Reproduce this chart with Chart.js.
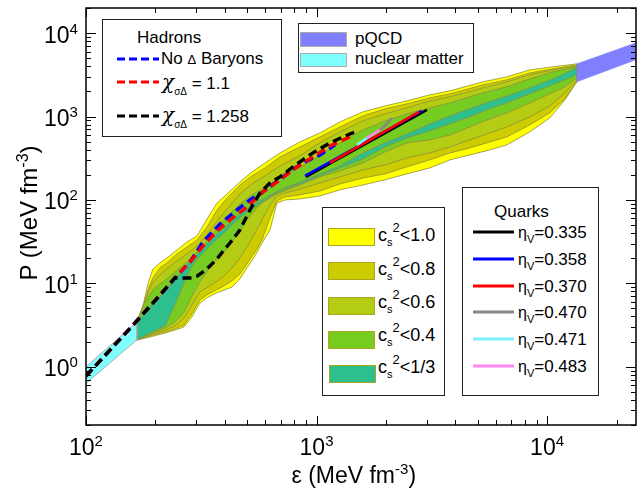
<!DOCTYPE html>
<html>
<head>
<meta charset="utf-8">
<title>EoS bands</title>
<script src="https://cdn.jsdelivr.net/npm/chart.js@4.4.1/dist/chart.umd.min.js"></script>
<style>
  html, body { margin: 0; padding: 0; background: #fff; }
  #wrap { position: relative; width: 637px; height: 489px; overflow: hidden;
          font-family: Arial, "Liberation Sans", sans-serif; color: #000; }
  #wrap canvas { position: absolute; left: 0; top: 0; }
  .t { position: absolute; white-space: nowrap; line-height: 1; }
  .box { position: absolute; box-sizing: border-box; border: 1px solid #222; background: #fff; }
  .sw { position: absolute; box-sizing: border-box; }
  .r { position: relative; }
  .chi { font-family: "DejaVu Serif", "Liberation Serif", serif; font-style: italic; font-size: 20px; }
</style>
</head>
<body>
<div id="wrap">
  <canvas id="c" width="637" height="489"></canvas>

  <!-- hadrons legend -->
  <div class="box" style="left:102px;top:19px;width:180px;height:118px"></div>
  <div class="t" style="left:137px;top:29px;font-size:17px">Hadrons</div>
  <svg style="position:absolute;left:117px;top:56px" width="42" height="6"><line x1="0" y1="3" x2="42" y2="3" stroke="#0000ff" stroke-width="3" stroke-dasharray="8 4"/></svg>
  <div class="t" style="left:161px;top:50px;font-size:17px">No <span style="font-size:13px">&Delta;</span> Baryons</div>
  <svg style="position:absolute;left:117px;top:79px" width="42" height="6"><line x1="0" y1="3" x2="42" y2="3" stroke="#ff0000" stroke-width="3" stroke-dasharray="8 4"/></svg>
  <div class="t" style="left:162px;top:72px;font-size:17px"><span class="chi">&chi;</span><span class="r" style="font-size:10px;top:6px">&sigma;&Delta;</span> = 1.1</div>
  <svg style="position:absolute;left:117px;top:113px" width="42" height="6"><line x1="0" y1="3" x2="42" y2="3" stroke="#000" stroke-width="3" stroke-dasharray="8 4"/></svg>
  <div class="t" style="left:162px;top:105px;font-size:17px"><span class="chi">&chi;</span><span class="r" style="font-size:10px;top:6px">&sigma;&Delta;</span> = 1.258</div>

  <!-- pQCD / nuclear matter legend -->
  <div class="box" style="left:298px;top:23px;width:176px;height:50px"></div>
  <div class="sw" style="left:300px;top:32px;width:47px;height:15px;background:#8080ff;border:1px solid #aaa"></div>
  <div class="sw" style="left:300px;top:53px;width:47px;height:14px;background:#80ffff;border:1px solid #aaa"></div>
  <div class="t" style="left:355px;top:30px;font-size:17px">pQCD</div>
  <div class="t" style="left:355px;top:50px;font-size:17px">nuclear matter</div>

  <!-- sound speed legend -->
  <div class="box" style="left:322px;top:207px;width:123px;height:189px"></div>
  <div class="sw" style="left:328px;top:228px;width:47px;height:18px;background:#ffff00;border:1px solid #a8a820"></div>
  <div class="sw" style="left:328px;top:262px;width:47px;height:18px;background:#cccc00;border:1px solid #a8a820"></div>
  <div class="sw" style="left:328px;top:297px;width:47px;height:18px;background:#b4cc14;border:1px solid #a8a820"></div>
  <div class="sw" style="left:328px;top:331px;width:47px;height:18px;background:#77cc22;border:1px solid #a8a820"></div>
  <div class="sw" style="left:329px;top:365px;width:47px;height:18px;background:#2dc08e;border:1px solid #a8a820"></div>
  <div class="t" style="left:378px;top:226px;font-size:18px">c<span class="r" style="font-size:11px;top:5px">s</span><span class="r" style="font-size:13px;top:-9px">2</span>&lt;1.0</div>
  <div class="t" style="left:378px;top:260px;font-size:18px">c<span class="r" style="font-size:11px;top:5px">s</span><span class="r" style="font-size:13px;top:-9px">2</span>&lt;0.8</div>
  <div class="t" style="left:378px;top:293px;font-size:18px">c<span class="r" style="font-size:11px;top:5px">s</span><span class="r" style="font-size:13px;top:-9px">2</span>&lt;0.6</div>
  <div class="t" style="left:378px;top:326px;font-size:18px">c<span class="r" style="font-size:11px;top:5px">s</span><span class="r" style="font-size:13px;top:-9px">2</span>&lt;0.4</div>
  <div class="t" style="left:378px;top:358px;font-size:18px">c<span class="r" style="font-size:11px;top:5px">s</span><span class="r" style="font-size:13px;top:-9px">2</span>&lt;1/3</div>

  <!-- quarks legend -->
  <div class="box" style="left:462px;top:187px;width:137px;height:209px"></div>
  <div class="t" style="left:494px;top:203px;font-size:17px">Quarks</div>
</div>

<script>
// ---------------- data ----------------
const xTickValues = [100, 1000, 10000];
const yTickValues = [1, 10, 100, 1000, 10000];

// energy density grid of the band edges: upper edge left -> right, lower edge right -> left
const epsUpper = [166, 177, 186, 195, 209, 227, 248, 274, 303, 335, 370, 413, 465, 525, 598, 694, 847,
                  1035, 1263, 1589, 1980, 2466, 3103, 3789, 5268, 6694, 8422, 10600, 13470];
const epsLower = [13470, 11950, 10280, 8422, 6694, 5648, 4627, 3789, 3103, 2466, 1980, 1589, 1263, 1035,
                  847, 730, 673, 628, 580, 541, 499, 465, 430, 397, 366, 338, 312, 288, 266, 243, 220, 189.5, 166];

// pressure on those edges for every sound speed band
const cs10Upper = [3.43, 5.5, 10.1, 14.8, 17.5, 20.7, 25.1, 31.3, 37.0, 59.1, 91.9, 121, 164, 217, 278, 366, 496,
                   636, 862, 1137, 1341, 1540, 1818, 2031, 2604, 2990, 3627, 3942, 4281];
const cs10Lower = [2604, 1583, 963, 654, 457, 398, 346, 302, 242, 205, 174, 151, 132, 111.6, 102.7, 99.9, 91.9,
                   43.6, 30.4, 21.3, 15.3, 11.3, 9.0, 8.3, 7.6, 6.8, 5.8, 3.94, 2.99, 2.75, 2.53, 2.27, 2.09];
const cs08Upper = [3.43, 5.3, 8.5, 11.6, 15.3, 18.0, 22.5, 27.3, 33.1, 47.4, 75.8, 108.5, 151, 194, 242, 328, 432,
                   570, 751, 1018, 1235, 1418, 1673, 1869, 2397, 2752, 3338, 3729, 4166];
const cs08Lower = [2677, 1628, 1106, 794, 570, 496, 420, 366, 302, 249, 205, 183, 155.5, 128, 115, 108.5, 97.2,
                   60.8, 33.1, 23.7, 17.0, 12.9, 10.7, 9.3, 8.3, 7.4, 6.3, 4.3, 3.16, 2.83, 2.60, 2.33, 2.09];
const cs06Upper = [3.43, 5.3, 7.6, 10.4, 12.6, 15.3, 18.5, 22.5, 28.0, 38.0, 55.9, 80.1, 117.9, 155.5, 194, 256, 337,
                   483, 654, 886, 1076, 1269, 1540, 1720, 2206, 2604, 3160, 3627, 4052];
const cs06Lower = [2752, 1921, 1341, 990, 751, 636, 524, 432, 366, 319, 263, 229, 189, 160, 135, 121, 111.6,
                   87.0, 57.5, 40.1, 27.3, 20.1, 15.3, 12.2, 10.4, 9.0, 7.9, 5.5, 3.8, 3.07, 2.75, 2.40, 2.09];
const cs04Upper = [3.43, 5.3, 6.8, 8.3, 9.8, 11.6, 14.4, 18.0, 23.7, 32.2, 44.8, 64.2, 89.4, 115, 143, 183, 242,
                   346, 483, 691, 886, 1076, 1269, 1457, 1921, 2268, 2829, 3432, 3942];
const cs04Lower = [2908, 2268, 1869, 1457, 1106, 937, 751, 602, 524, 483, 376, 278, 222.6, 189, 151, 128, 117.9,
                   105.6, 91.9, 75.8, 57.5, 42.4, 31.3, 23.7, 19.0, 14.4, 10.4, 7.0, 4.5, 3.43, 2.91, 2.46, 2.09];
const cs03Upper = [3.43, 4.2, 4.9, 5.8, 7.0, 9.0, 11.9, 16.6, 22.5, 29.6, 39.0, 50.1, 67.9, 87.0, 105.6, 132, 164,
                   205, 256, 366, 483, 619, 816, 1018, 1418, 1768, 2206, 2829, 3834];
const cs03Lower = [3160, 2752, 2331, 1869, 1457, 1235, 990, 816, 672, 554, 432, 310, 242, 194, 155.5, 135, 121,
                   108.5, 94.5, 82.3, 71.7, 60.8, 50.1, 40.1, 33.1, 26.5, 21.3, 16.1, 10.1, 5.5, 3.07, 2.53, 2.09];

const nuclearEps = [100, 166];
const nuclearUpper = [1.0, 3.43];
const nuclearLower = [0.63, 2.09];
const pqcdEps = [13470, 26000];
const pqcdUpper = [4281, 8197];
const pqcdLower = [2604, 5138];

// hadronic EoS (dashed)
const noDeltaEps = [100, 166, 209, 243, 282.5, 321.7, 381.2, 451.6, 514, 585.7, 714.9, 790, 908.7, 1035, 1202];
const noDeltaP   = [0.772, 3.53, 7.2, 11.6, 18.0, 31.3, 51.5, 75.8, 99.9, 124.6, 189, 235.3, 293.6, 346, 457];
const x11Eps = [100, 166, 209, 243, 282.5, 321.7, 370, 421, 499, 585.7, 694, 822, 965, 1143, 1396];
const x11P   = [0.772, 3.53, 7.2, 11.6, 18.0, 28.0, 42.4, 57.5, 82.3, 124.6, 174, 249, 328, 444, 570];
const x1258Eps = [100, 166, 209, 243, 263, 282.5, 303, 321.7, 344.9, 370, 397, 421, 465, 514, 568, 628, 694,
                  822, 965, 1143, 1302, 1468];
const x1258P   = [0.772, 3.53, 7.2, 11.6, 11.6, 11.6, 12.2, 13.7, 16.1, 19.6, 25.1, 30.4, 43.6, 75.8, 121, 160, 189,
                  270, 366, 483, 570, 654];

// quark EoS (solid)
const quarkLabels = ['0.335', '0.358', '0.370', '0.470', '0.471', '0.483'];
const quarkColors = ['#000000', '#0000ff', '#ff0000', '#888888', '#80f0ff', '#ff88ee'];
const quarkEps = [[899.5, 3012], [890.6, 2865], [1143, 2780], [1883, 2000, 2123], [1497, 1654], [1654, 1883]];
const quarkP   = [[189, 1201], [194, 1168], [278, 1137], [691, 794, 963], [457, 554], [554, 691]];

// ---------------- build ----------------
function pts(xs, ys) { return xs.map((x, i) => ({ x: x, y: ys[i] })); }
function poly(xsUp, up, xsLow, low) {
  const p = pts(xsUp, up).concat(pts(xsLow, low));
  p.push(p[0]);
  return p;
}

const edge = '#8f8f3c';
function bandSet(up, low, color, order) {
  return { data: poly(epsUpper, up, epsLower, low), backgroundColor: color, borderColor: edge,
           borderWidth: 0.8, fill: 'shape', pointRadius: 0, order: order };
}
function lineSet(xs, ys, color, width, dash, order) {
  return { data: pts(xs, ys), borderColor: color, borderWidth: width, borderDash: dash,
           fill: false, pointRadius: 0, order: order };
}

const datasets = [
  bandSet(cs10Upper, cs10Lower, '#ffff00', 30),
  bandSet(cs08Upper, cs08Lower, '#cccc00', 29),
  bandSet(cs06Upper, cs06Lower, '#b4cc14', 28),
  bandSet(cs04Upper, cs04Lower, '#77cc22', 27),
  bandSet(cs03Upper, cs03Lower, '#2dc08e', 26),
  { data: poly(nuclearEps, nuclearUpper, nuclearEps.slice().reverse(), nuclearLower.slice().reverse()),
    backgroundColor: '#80ffff', borderColor: '#b0b0b0', borderWidth: 1, fill: 'shape', pointRadius: 0, order: 25 },
  { data: poly(pqcdEps, pqcdUpper, pqcdEps.slice().reverse(), pqcdLower.slice().reverse()),
    backgroundColor: '#8080ff', borderColor: '#8080ff', borderWidth: 0.5, fill: 'shape', pointRadius: 0, order: 25 }
];
// solid quark lines: black under blue under red, short ones on top
const quarkOrder = [14, 13, 12, 9, 11, 10];
quarkEps.forEach((xs, i) => datasets.push(lineSet(xs, quarkP[i], quarkColors[i], 2.6, [], quarkOrder[i])));
datasets.push(lineSet(noDeltaEps, noDeltaP, '#0000ff', 3.4, [9, 5], 3));
datasets.push(lineSet(x11Eps, x11P, '#ff0000', 3.4, [9, 5], 2));
datasets.push(lineSet(x1258Eps, x1258P, '#000000', 3.4, [9, 5], 1));

// frame with inward ticks on all four sides
const frameTicks = {
  id: 'frameTicks',
  afterDatasetsDraw(chart) {
    const { ctx, chartArea: a, scales: { x, y } } = chart;
    ctx.save();
    ctx.strokeStyle = '#000';
    ctx.lineWidth = 1;
    ctx.beginPath();
    for (let d = 10; d <= 100000; d *= 10) {
      for (let k = 1; k <= 9; k++) {
        const v = d * k;
        const len = k === 1 ? 9 : 5;
        if (v >= x.min && v <= x.max) {
          const px = Math.round(x.getPixelForValue(v)) + 0.5;
          ctx.moveTo(px, a.bottom); ctx.lineTo(px, a.bottom - len);
          ctx.moveTo(px, a.top); ctx.lineTo(px, a.top + len);
        }
      }
    }
    for (let d = 0.1; d <= 10000; d *= 10) {
      for (let k = 1; k <= 9; k++) {
        const v = d * k;
        const len = k === 1 ? 10 : 5;
        if (v >= y.min * 0.999 && v <= y.max * 1.001) {
          const py = Math.round(y.getPixelForValue(v)) + 0.5;
          ctx.moveTo(a.left, py); ctx.lineTo(a.left + len, py);
          ctx.moveTo(a.right, py); ctx.lineTo(a.right - len, py);
        }
      }
    }
    ctx.stroke();
    ctx.lineWidth = 1.5;
    ctx.strokeRect(a.left, a.top, a.right - a.left, a.bottom - a.top);
    ctx.restore();
  }
};

const chart = new Chart(document.getElementById('c').getContext('2d'), {
  type: 'line',
  data: { datasets: datasets },
  options: {
    responsive: false,
    animation: false,
    events: [],
    layout: { padding: { left: 86, right: 1, top: 8, bottom: 64 } },
    plugins: { legend: { display: false }, tooltip: { enabled: false } },
    elements: { line: { tension: 0 } },
    scales: {
      x: { type: 'logarithmic', min: 100, max: 24300, display: false },
      y: { type: 'logarithmic', min: 0.2, max: 20000, display: false }
    }
  },
  plugins: [frameTicks]
});

// ---------------- text (real DOM text) ----------------
const wrap = document.getElementById('wrap');
function addText(html, style) {
  const d = document.createElement('div');
  d.className = 't';
  d.innerHTML = html;
  Object.assign(d.style, style);
  wrap.appendChild(d);
  return d;
}

xTickValues.forEach(v => {
  const px = chart.scales.x.getPixelForValue(v);
  const d = addText('10<span class="r" style="font-size:15px;top:-9px">' + Math.round(Math.log10(v)) + '</span>',
                    { fontSize: '23px', top: '436px' });
  d.style.left = (px - d.offsetWidth / 2) + 'px';
});
yTickValues.forEach(v => {
  const py = chart.scales.y.getPixelForValue(v);
  const d = addText('10<span class="r" style="font-size:15px;top:-9px">' + Math.round(Math.log10(v)) + '</span>',
                    { fontSize: '23px' });
  d.style.left = (78 - d.offsetWidth) + 'px';
  d.style.top = (py - 9.5) + 'px';
});

const xt = addText('&epsilon; (MeV fm<span class="r" style="font-size:15px;top:-9px">-3</span>)', { fontSize: '23px', top: '464px' });
xt.style.left = (354 - xt.offsetWidth / 2) + 'px';
const yt = addText('P (MeV fm<span class="r" style="font-size:16px;top:-9px">-3</span>)', { fontSize: '24px' });
yt.style.left = (28 - yt.offsetWidth / 2) + 'px';
yt.style.top = (213 - yt.offsetHeight / 2) + 'px';
yt.style.transform = 'rotate(-90deg)';

// quark legend rows
const rowY = [232, 259, 286, 312, 339, 366];
quarkLabels.forEach((lab, i) => {
  const s = document.createElementNS('http://www.w3.org/2000/svg', 'svg');
  s.setAttribute('width', '41'); s.setAttribute('height', '6');
  s.style.position = 'absolute'; s.style.left = '473px'; s.style.top = (rowY[i] - 3) + 'px';
  s.innerHTML = '<line x1="0" y1="3" x2="41" y2="3" stroke="' + quarkColors[i] + '" stroke-width="3"/>';
  wrap.appendChild(s);
  addText('<span style="font-size:16px">&eta;</span><span class="r" style="font-size:11px;top:5px">V</span>=' + lab,
          { fontSize: '17px', left: '518px', top: (rowY[i] - 8) + 'px' });
});
</script>
</body>
</html>
